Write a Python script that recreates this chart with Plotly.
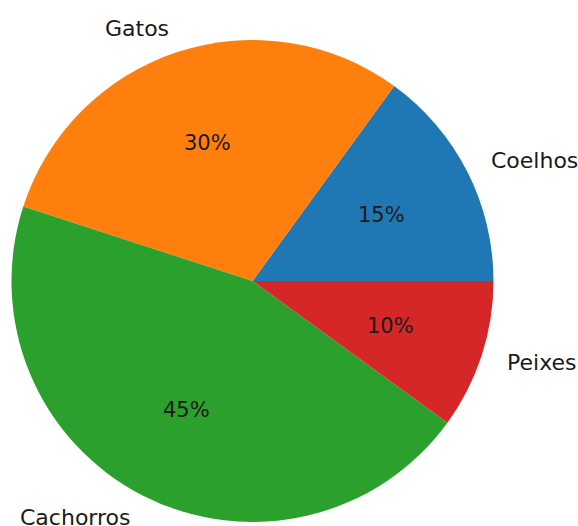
import math
import plotly.graph_objects as go

labels = ["Coelhos", "Gatos", "Cachorros", "Peixes"]
values = [15, 30, 45, 10]
colors = ["#1f77b4", "#ff7f0e", "#2ca02c", "#d62728"]

W, H = 578, 526
cx, cy, r = 252.5, 281.0, 241.0  # pixel centre (from top) and radius

fig = go.Figure(go.Pie(
    labels=labels, values=values, sort=False, direction="counterclockwise",
    rotation=36, marker=dict(colors=colors, line=dict(width=0)),
    textinfo="none", hoverinfo="label+percent", showlegend=False,
    domain=dict(x=[(cx - r) / W, (cx + r) / W],
                y=[(H - cy - r) / H, (H - cy + r) / H]),
))

total = sum(values)
ann = []
start = 0.0
lab_font = dict(family="DejaVu Sans", size=22, color="#1a1a1a")
pct_font = dict(family="DejaVu Sans", size=21, color="#1a1a1a")
for lab, v in zip(labels, values):
    frac = v / total
    mid = 2 * math.pi * (start + frac / 2)
    start += frac
    c, s = math.cos(mid), math.sin(mid)
    lx = (cx + 1.1 * r * c) / W
    ly = (H - cy + 1.1 * r * s) / H
    ann.append(dict(x=lx, y=ly, xref="paper", yref="paper", text=lab, showarrow=False,
                    xanchor="left" if c > 0 else "right", yanchor="middle", font=lab_font))
    px = (cx + 0.6 * r * c) / W
    py = (H - cy + 0.6 * r * s) / H
    ann.append(dict(x=px, y=py, xref="paper", yref="paper", text=f"{round(frac*100)}%",
                    showarrow=False, xanchor="center", yanchor="middle", font=pct_font))

fig.update_layout(width=W, height=H, margin=dict(l=0, r=0, t=0, b=0),
                  paper_bgcolor="white", plot_bgcolor="white", annotations=ann)
fig.write_html("out.html", config={"displayModeBar": False},
               post_script="document.body.style.margin='0';")
